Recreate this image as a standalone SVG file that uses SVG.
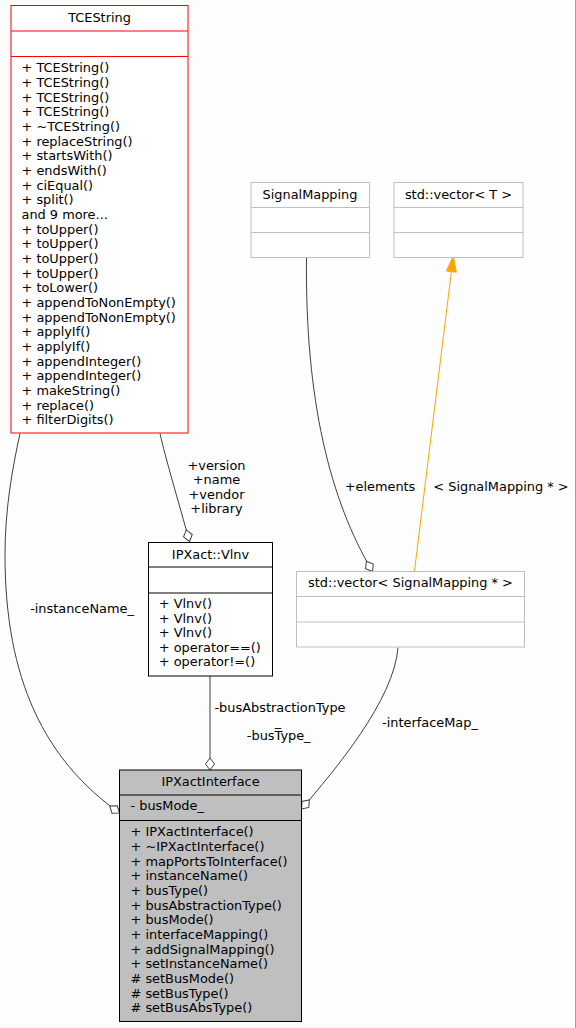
<svg xmlns="http://www.w3.org/2000/svg" width="576" height="1028" viewBox="0 0 576 1028">
<style>
text{font-family:"DejaVu Sans","Liberation Sans",sans-serif;font-size:12.9px;fill:#000}
.t{text-anchor:middle}
.box{fill:#fff;stroke-width:1}
.blk{stroke:#000}
.red{stroke:#ff0000}
.grey{stroke:#bfbfbf}
.cur{fill:#bfbfbf;stroke:#000}
.edge{fill:none;stroke:#404040;stroke-width:1}
.lbl{text-anchor:middle}
</style>
<defs>
<marker id="dia" markerUnits="userSpaceOnUse" viewBox="-13 -6 14 12" refX="0" refY="0" markerWidth="14" markerHeight="12" orient="auto">
<path d="M0,0 L-6,-4.5 L-12,0 L-6,4.5 Z" fill="#fff" stroke="#404040" stroke-width="1"/>
</marker>
</defs>
<rect x="0" y="0" width="576" height="1028" fill="#fcfdfc"/>
<line x1="575.5" y1="0" x2="575.5" y2="1028" stroke="#a0a0a0" stroke-width="1"/>

<g id="edges">
<path class="edge" d="M20,433.5 C12,470 5,510 5,555 C5,680 45,760 119.5,813" marker-end="url(#dia)"/>
<text x="82" y="612.5" class="lbl">-instanceName_</text>
<path class="edge" d="M160,433.5 C166,460 178,500 189.5,541.5" marker-end="url(#dia)"/>
<text x="216.5" y="469.5" class="lbl">+version</text>
<text x="216.5" y="484" class="lbl">+name</text>
<text x="216.5" y="498.5" class="lbl">+vendor</text>
<text x="216.5" y="513" class="lbl">+library</text>
<path class="edge" d="M210,676 L210,770" marker-end="url(#dia)"/>
<text x="280" y="711.5" class="lbl">-busAbstractionType</text>
<text x="278" y="725.8" class="lbl">_</text>
<text x="278.7" y="740.3" class="lbl">-busType_</text>
<path class="edge" d="M306.5,258 C305,400 330,500 372.5,571.5" marker-end="url(#dia)"/>
<text x="380" y="491" class="lbl">+elements</text>
<path d="M414.5,571 L451.4,271.6" fill="none" stroke="#ffa500" stroke-width="1"/>
<polygon points="453.3,256 456.3,272.2 446.4,271" fill="#ffa500" stroke="#ffa500" stroke-width="1"/>
<text x="501" y="491" class="lbl">&lt; SignalMapping * &gt;</text>
<path class="edge" d="M398,647.5 C394,700 335,770 301.5,809" marker-end="url(#dia)"/>
<text x="430" y="726.5" class="lbl">-interfaceMap_</text>
</g>

<g id="TCEString">
<rect class="box red" x="11" y="5.5" width="177" height="427.5"/>
<line class="red" x1="11" y1="31" x2="188" y2="31"/>
<line class="red" x1="11" y1="56.5" x2="188" y2="56.5"/>
<text x="99.5" y="22" class="t">TCEString</text>
<text x="21.5" y="72.3">+ TCEString()</text>
<text x="21.5" y="86.97">+ TCEString()</text>
<text x="21.5" y="101.64">+ TCEString()</text>
<text x="21.5" y="116.31">+ TCEString()</text>
<text x="21.5" y="130.98">+ ~TCEString()</text>
<text x="21.5" y="145.65">+ replaceString()</text>
<text x="21.5" y="160.32">+ startsWith()</text>
<text x="21.5" y="174.99">+ endsWith()</text>
<text x="21.5" y="189.66">+ ciEqual()</text>
<text x="21.5" y="204.33">+ split()</text>
<text x="21.5" y="219">and 9 more...</text>
<text x="21.5" y="233.67">+ toUpper()</text>
<text x="21.5" y="248.34">+ toUpper()</text>
<text x="21.5" y="263.01">+ toUpper()</text>
<text x="21.5" y="277.68">+ toUpper()</text>
<text x="21.5" y="292.35">+ toLower()</text>
<text x="21.5" y="307.02">+ appendToNonEmpty()</text>
<text x="21.5" y="321.69">+ appendToNonEmpty()</text>
<text x="21.5" y="336.36">+ applyIf()</text>
<text x="21.5" y="351.03">+ applyIf()</text>
<text x="21.5" y="365.7">+ appendInteger()</text>
<text x="21.5" y="380.37">+ appendInteger()</text>
<text x="21.5" y="395.04">+ makeString()</text>
<text x="21.5" y="409.71">+ replace()</text>
<text x="21.5" y="424.38">+ filterDigits()</text>
</g>

<g id="SignalMapping">
<rect class="box grey" x="251" y="182.5" width="118.5" height="75"/>
<line class="grey" x1="251" y1="207.5" x2="369.5" y2="207.5"/>
<line class="grey" x1="251" y1="232.5" x2="369.5" y2="232.5"/>
<text x="310" y="198.5" class="t">SignalMapping</text>
</g>

<g id="vectorT">
<rect class="box grey" x="394" y="182.5" width="129" height="75"/>
<line class="grey" x1="394" y1="207.5" x2="523" y2="207.5"/>
<line class="grey" x1="394" y1="232.5" x2="523" y2="232.5"/>
<text x="458.5" y="198.5" class="t">std::vector&lt; T &gt;</text>
</g>

<g id="Vlnv">
<rect class="box blk" x="148.5" y="542.5" width="124" height="133.5"/>
<line class="blk" x1="148.5" y1="567" x2="272.5" y2="567"/>
<line class="blk" x1="148.5" y1="593" x2="272.5" y2="593"/>
<text x="210.5" y="558.5" class="t">IPXact::Vlnv</text>
<text x="158.8" y="608.3">+ Vlnv()</text>
<text x="158.8" y="622.8">+ Vlnv()</text>
<text x="158.8" y="637.3">+ Vlnv()</text>
<text x="158.8" y="651.8">+ operator==()</text>
<text x="158.8" y="666.3">+ operator!=()</text>
</g>

<g id="vectorSignalMapping">
<rect class="box grey" x="296.5" y="571.5" width="228" height="75.5"/>
<line class="grey" x1="296.5" y1="596.5" x2="524.5" y2="596.5"/>
<line class="grey" x1="296.5" y1="622" x2="524.5" y2="622"/>
<text x="410.5" y="587.3" class="t">std::vector&lt; SignalMapping * &gt;</text>
</g>

<g id="IPXactInterface">
<rect class="cur" x="119.5" y="770" width="182" height="251.5"/>
<line class="blk" x1="119.5" y1="795" x2="301.5" y2="795"/>
<line class="blk" x1="119.5" y1="820.5" x2="301.5" y2="820.5"/>
<text x="210.5" y="786.3" class="t">IPXactInterface</text>
<text x="130.5" y="810">- busMode_</text>
<text x="130.5" y="836.3">+ IPXactInterface()</text>
<text x="130.5" y="850.97">+ ~IPXactInterface()</text>
<text x="130.5" y="865.64">+ mapPortsToInterface()</text>
<text x="130.5" y="880.31">+ instanceName()</text>
<text x="130.5" y="894.98">+ busType()</text>
<text x="130.5" y="909.65">+ busAbstractionType()</text>
<text x="130.5" y="924.32">+ busMode()</text>
<text x="130.5" y="938.99">+ interfaceMapping()</text>
<text x="130.5" y="953.66">+ addSignalMapping()</text>
<text x="130.5" y="968.33">+ setInstanceName()</text>
<text x="130.5" y="983"># setBusMode()</text>
<text x="130.5" y="997.67"># setBusType()</text>
<text x="130.5" y="1012.34"># setBusAbsType()</text>
</g>
</svg>
